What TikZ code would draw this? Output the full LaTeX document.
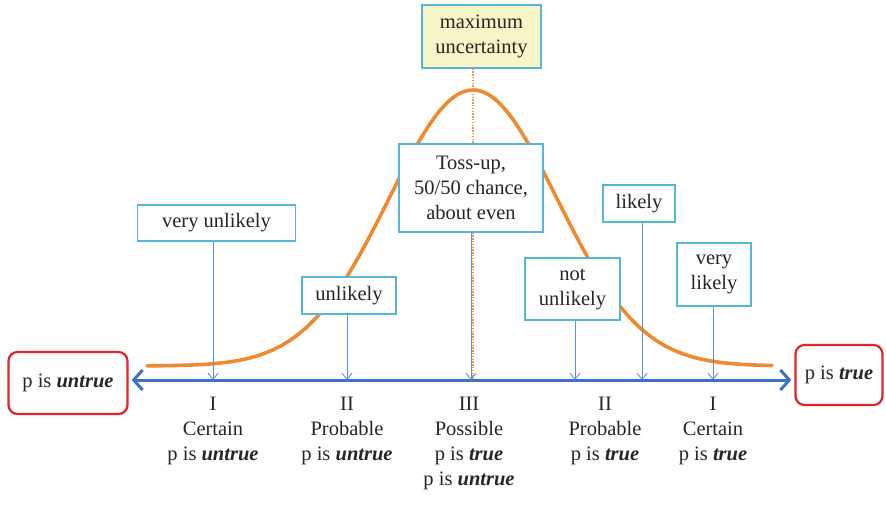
\documentclass[tikz,border=0pt]{standalone}
\usepackage{fontspec}
\setmainfont{LiberationSerif}[
  Extension=.ttf,
  UprightFont=*-Regular,
  BoldFont=*-Bold,
  ItalicFont=*-Italic,
  BoldItalicFont=*-BoldItalic]
\usetikzlibrary{arrows.meta}
\definecolor{boxblue}{HTML}{55B7D6}
\definecolor{pointer}{HTML}{5B8FD6}
\definecolor{axisblue}{HTML}{3F72C0}
\definecolor{bellorange}{HTML}{F08A30}
\definecolor{endred}{HTML}{E0262A}
\definecolor{noteyellow}{HTML}{F7F5C8}
\tikzset{
  txt/.style={font=\fontsize{20.5}{25}\selectfont, align=center, text=black!85},
  termbox/.style={txt, draw=boxblue, line width=1.3pt, fill=white, inner sep=0pt},
  endbox/.style={txt, draw=endred, line width=2.2pt, rounded corners=9pt, inner sep=0pt},
  pointerarrow/.style={draw=pointer, line width=0.9pt, -{Straight Barb[length=6pt,width=10pt,line width=0.9pt]}},
  caption/.style={txt, anchor=north, inner sep=0pt},
  peakline/.style={draw=bellorange!90, line width=1.1pt, dash pattern=on 1.4pt off 1.4pt},
}
\begin{document}
\begin{tikzpicture}[x=1pt,y=-1pt]
\useasboundingbox (0,0) rectangle (886,505);

% bell curve of uncertainty
\draw[bellorange, line width=3.6pt, line cap=round]
  plot[domain=147:772, samples=160, smooth]
  (\x, {366 - 276*exp(-0.5*((\x-473)/84)^2)});

% end points of the scale
\node[endbox, minimum width=119pt, minimum height=62pt] (untrue) at (68,383) {p is \textbf{\textit{untrue}}};
\node[endbox, minimum width=87pt, minimum height=60pt] (true) at (839,375) {p is \textbf{\textit{true}}};

% scale positions
\coordinate (p1) at (213,380);
\coordinate (p2) at (347,380);
\coordinate (p3) at (471,380);
\coordinate (p4) at (575,380);
\coordinate (p5) at (642,380);
\coordinate (p6) at (713,380);
\coordinate (peak) at (473,380);

% verbal terms
\node[termbox, fill=noteyellow, minimum width=119pt, minimum height=63pt] (maxu) at (481.5,36.5) {maximum\\uncertainty};
\node[termbox, minimum width=158pt, minimum height=36pt] (vunl) at (216.5,223) {very unlikely};
\node[termbox, minimum width=94pt, minimum height=37pt] (unl) at (349,295.5) {unlikely};
\node[termbox, minimum width=144pt, minimum height=88pt] (toss) at (471,188) {Toss-up,\\50/50 chance,\\about even};
\node[termbox, minimum width=95pt, minimum height=62pt] (nunl) at (572.5,289) {not\\unlikely};
\node[termbox, minimum width=72pt, minimum height=37pt] (lik) at (639,203.5) {likely};
\node[termbox, minimum width=74pt, minimum height=63pt] (vlik) at (714,274.5) {very\\likely};

% line of maximum uncertainty
\draw[peakline] (maxu.south -| peak) -- (toss.north -| peak);
\draw[peakline] (toss.south -| peak) -- (peak);

% the probability scale
\draw[axisblue, line width=3pt,
  {Straight Barb[length=9pt,width=20pt,line width=3pt]}-{Straight Barb[length=9pt,width=20pt,line width=3pt]}]
  ([xshift=3pt]untrue.east |- p1) -- ([xshift=-3pt]true.west |- p1);

% pointers from terms to the scale
\draw[pointerarrow] (vunl.south -| p1) -- (p1);
\draw[pointerarrow] (unl.south -| p2) -- (p2);
\draw[pointerarrow] (toss.south -| p3) -- (p3);
\draw[pointerarrow] (nunl.south -| p4) -- (p4);
\draw[pointerarrow] (lik.south -| p5) -- (p5);
\draw[pointerarrow] (vlik.south -| p6) -- (p6);

% category captions
\node[caption] (c1) at (213,397) {I\\Certain\\p is \textbf{\textit{untrue}}};
\node[caption] (c2) at (347,397) {II\\Probable\\p is \textbf{\textit{untrue}}};
\node[caption] (c3) at (469,397) {III\\Possible\\p is \textbf{\textit{true}}\\p is \textbf{\textit{untrue}}};
\node[caption] (c4) at (605,397) {II\\Probable\\p is \textbf{\textit{true}}};
\node[caption] (c5) at (713,397) {I\\Certain\\p is \textbf{\textit{true}}};
\end{tikzpicture}
\end{document}
